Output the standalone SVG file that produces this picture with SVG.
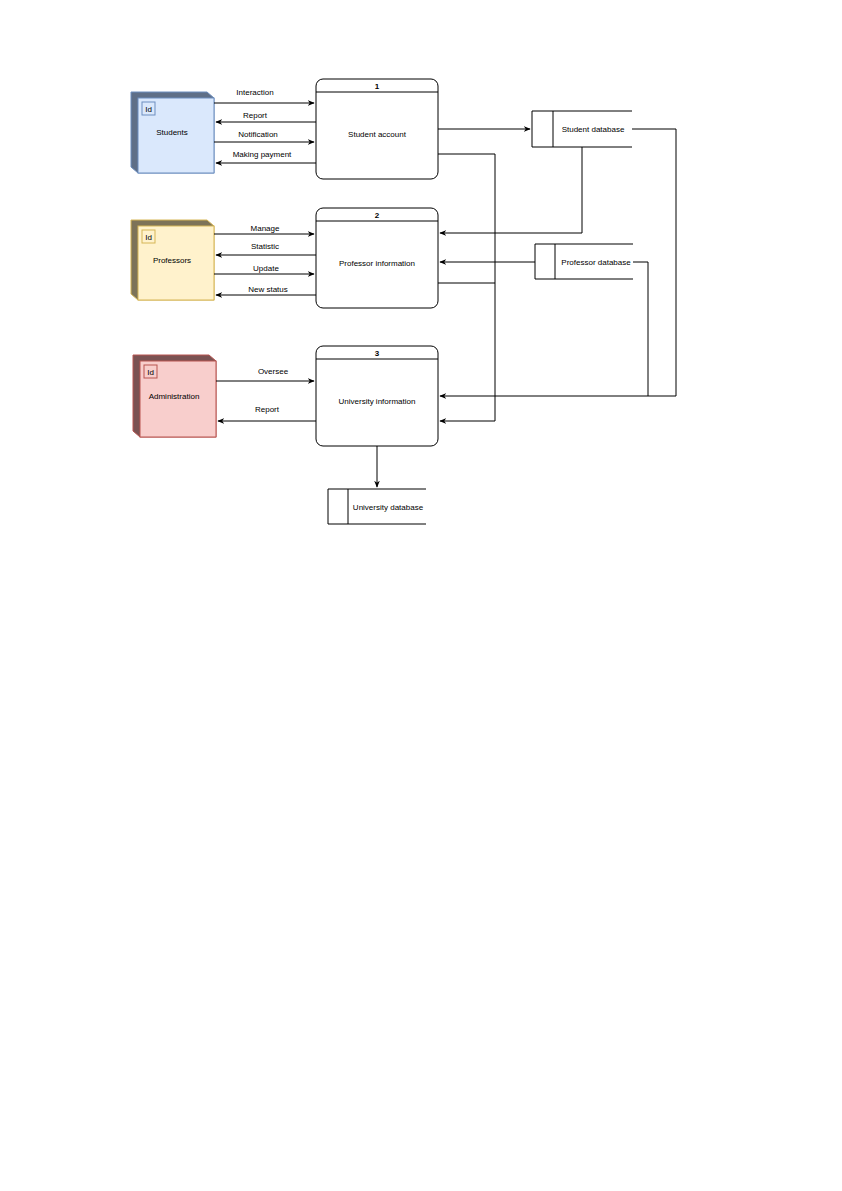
<svg xmlns="http://www.w3.org/2000/svg" width="842" height="1191" viewBox="0 0 842 1191">
<style>
text{font-family:"Liberation Sans",Arial,sans-serif;font-size:8px;fill:#000;text-anchor:middle}
.b{font-weight:bold}
.l{fill:none;stroke:#000;stroke-width:1}
.p{fill:#fff;stroke:#000;stroke-width:1}
</style>
<defs><marker id="a" viewBox="0 0 10 10" refX="9" refY="5" markerWidth="7" markerHeight="7" orient="auto"><path d="M0,1L10,5L0,9L3,5z" fill="#000"/></marker></defs>
<rect width="842" height="1191" fill="#fff"/>
<g id="students">
<path d="M131,92L207,92L214,98L214,173L138,173L131,167z" fill="#5f6f87" stroke="#6c8ebf"/>
<rect x="138" y="98" width="76" height="75" fill="#dae8fc" stroke="#6c8ebf"/>
<rect x="142" y="102" width="13" height="13" fill="#dae8fc" stroke="#6c8ebf"/>
<text x="148.5" y="112">Id</text><text x="172" y="135">Students</text></g>
<g id="professors">
<path d="M131,220L207,220L214,226L214,300L138,300L131,294z" fill="#7d7358" stroke="#d6b656"/>
<rect x="138" y="226" width="76" height="74" fill="#fff2cc" stroke="#d6b656"/>
<rect x="142" y="230" width="13" height="13" fill="#fff2cc" stroke="#d6b656"/>
<text x="148.5" y="240">Id</text><text x="172" y="263">Professors</text></g>
<g id="administration">
<path d="M133,355L209,355L216,361L216,437L140,437L133,431z" fill="#7a5252" stroke="#b85450"/>
<rect x="140" y="361" width="76" height="76" fill="#f8cecc" stroke="#b85450"/>
<rect x="144" y="365" width="13" height="13" fill="#f8cecc" stroke="#b85450"/>
<text x="150.5" y="375">Id</text><text x="174" y="399">Administration</text></g>
<g id="p1"><rect class="p" x="316" y="79" width="122" height="100" rx="7"/><line class="l" x1="316" y1="92" x2="438" y2="92"/>
<text class="b" x="377" y="89">1</text><text x="377" y="137">Student account</text></g>
<g id="p2"><rect class="p" x="316" y="208" width="122" height="100" rx="7"/><line class="l" x1="316" y1="221" x2="438" y2="221"/>
<text class="b" x="377" y="218">2</text><text x="377" y="266">Professor information</text></g>
<g id="p3"><rect class="p" x="316" y="346" width="122" height="100" rx="7"/><line class="l" x1="316" y1="359" x2="438" y2="359"/>
<text class="b" x="377" y="356">3</text><text x="377" y="404">University information</text></g>
<g id="sdb"><path class="l" d="M632,111H532V147H632M553,111V147"/><text x="593" y="132">Student database</text></g>
<g id="pdb"><path class="l" d="M633,244H535V279H633M555,244V279"/><text x="596" y="265">Professor database</text></g>
<g id="udb"><path class="l" d="M426,489H328V524H426M348,489V524"/><text x="388" y="510">University database</text></g>
<g id="connectors" class="l">
<path class="l" d="M214,103H314" marker-end="url(#a)"/><path class="l" d="M316,122H216" marker-end="url(#a)"/>
<path class="l" d="M214,142H314" marker-end="url(#a)"/><path class="l" d="M316,163H216" marker-end="url(#a)"/>
<path class="l" d="M214,234H314" marker-end="url(#a)"/><path class="l" d="M316,255H216" marker-end="url(#a)"/>
<path class="l" d="M214,274H314" marker-end="url(#a)"/><path class="l" d="M316,295H216" marker-end="url(#a)"/>
<path class="l" d="M216,381H314" marker-end="url(#a)"/><path class="l" d="M316,421H218" marker-end="url(#a)"/>
<path class="l" d="M438,129H530" marker-end="url(#a)"/>
<path class="l" d="M438,154H495V421H440" marker-end="url(#a)"/>
<path class="l" d="M438,283H495"/>
<path class="l" d="M582,147V233H440" marker-end="url(#a)"/>
<path class="l" d="M535,262H440" marker-end="url(#a)"/>
<path class="l" d="M632,129H676V396H440" marker-end="url(#a)"/>
<path class="l" d="M633,262H648V396"/>
<path class="l" d="M377,446V487" marker-end="url(#a)"/>
</g>
<g id="labels">
<text x="255" y="95">Interaction</text><text x="255" y="118">Report</text><text x="258" y="137">Notification</text><text x="262" y="157">Making payment</text>
<text x="265" y="231">Manage</text><text x="265" y="249">Statistic</text><text x="266" y="271">Update</text><text x="268" y="292">New status</text>
<text x="273" y="374">Oversee</text><text x="267" y="412">Report</text>
</g>
</svg>
